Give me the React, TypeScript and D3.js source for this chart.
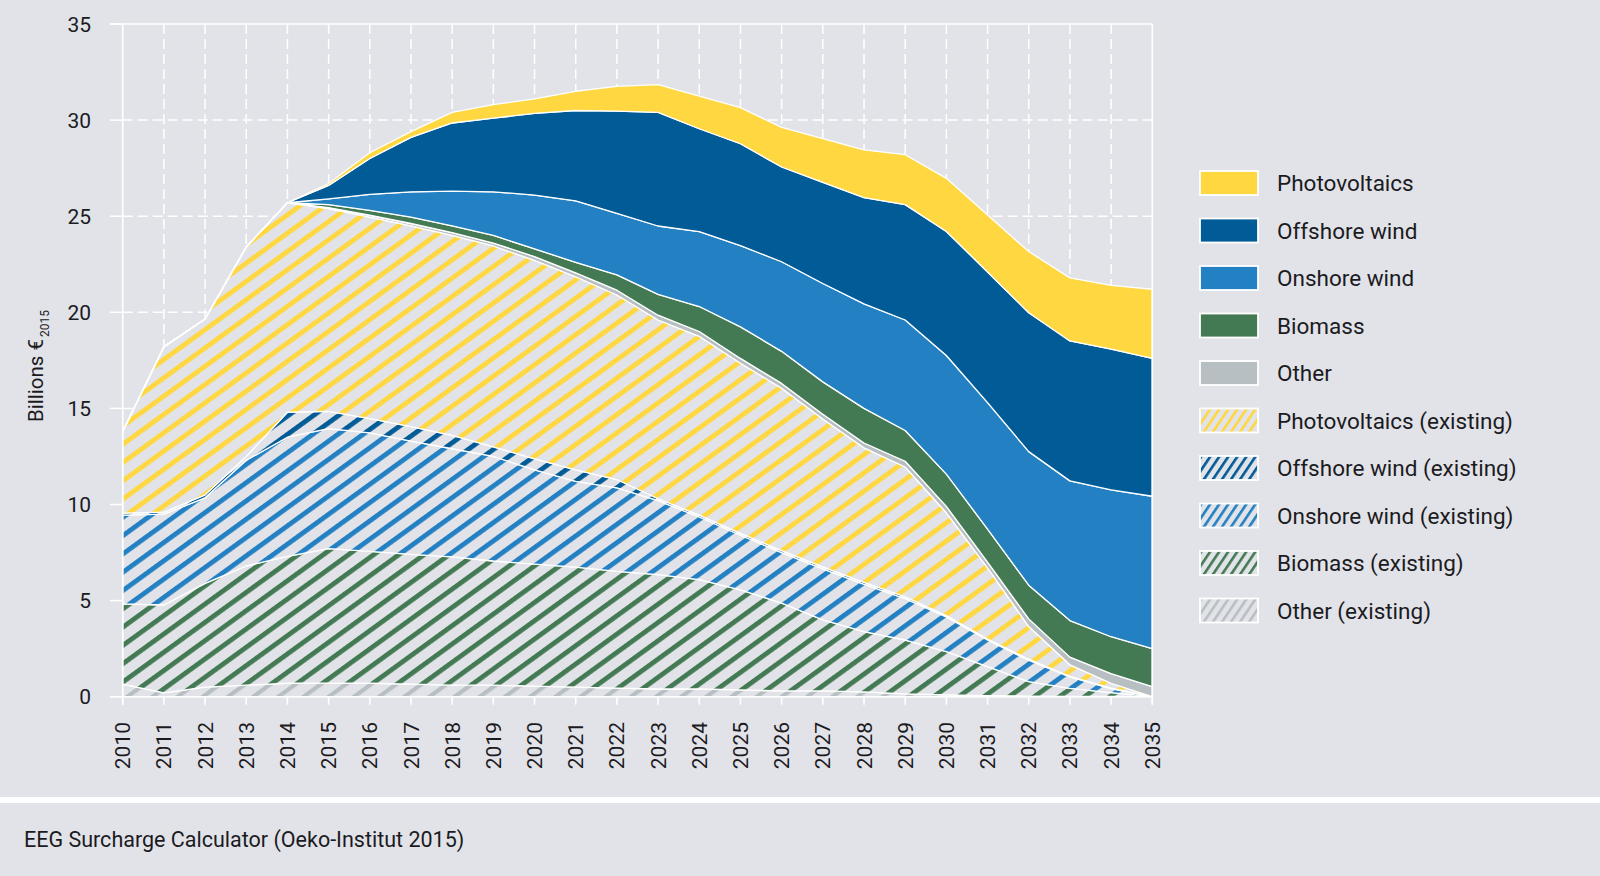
import { useRef, useEffect } from 'react';
import * as d3 from 'd3';

// Years on the x axis
const years: number[] = [
  2010, 2011, 2012, 2013, 2014, 2015, 2016, 2017, 2018, 2019, 2020, 2021, 2022,
  2023, 2024, 2025, 2026, 2027, 2028, 2029, 2030, 2031, 2032, 2033, 2034, 2035,
];

// Billions €2015, one value per year
const otherExisting: number[] = [0.65, 0.2, 0.5, 0.6, 0.7, 0.7, 0.7, 0.65, 0.6, 0.6, 0.55, 0.5, 0.45, 0.4, 0.4, 0.35, 0.3, 0.3, 0.25, 0.15, 0.1, 0.05, 0.03, 0.02, 0.01, 0];
const biomassExisting: number[] = [4.18, 4.57, 5.4, 6.2, 6.6, 7.0, 6.86, 6.75, 6.67, 6.46, 6.35, 6.24, 6.07, 5.95, 5.69, 5.21, 4.57, 3.7, 3.14, 2.8, 2.24, 1.51, 0.75, 0.41, 0.2, 0];
const onshoreExisting: number[] = [4.62, 4.73, 4.45, 5.5, 6.2, 6.25, 6.17, 5.9, 5.63, 5.44, 4.9, 4.46, 4.35, 3.85, 3.26, 2.84, 2.63, 2.65, 2.46, 2.15, 1.81, 1.39, 1.12, 0.6, 0.21, 0];
const offshoreExisting: number[] = [0.1, 0.1, 0.15, 0.2, 1.3, 0.9, 0.74, 0.75, 0.7, 0.5, 0.57, 0.6, 0.43, 0.1, 0.1, 0.1, 0.1, 0.1, 0.1, 0.1, 0.07, 0.05, 0.05, 0.03, 0.02, 0];
const pvExisting: number[] = [4.25, 8.6, 9.15, 10.9, 10.9, 10.55, 10.48, 10.45, 10.4, 10.45, 10.33, 10.05, 9.6, 9.3, 9.3, 8.85, 8.45, 7.7, 7.0, 6.75, 5.35, 3.7, 1.7, 0.6, 0.26, 0];
const otherNew: number[] = [0, 0, 0, 0, 0, 0.05, 0.1, 0.12, 0.15, 0.15, 0.2, 0.2, 0.25, 0.25, 0.25, 0.25, 0.25, 0.25, 0.25, 0.3, 0.33, 0.3, 0.4, 0.4, 0.5, 0.52];
const biomassNew: number[] = [0, 0, 0, 0, 0, 0.15, 0.25, 0.33, 0.35, 0.4, 0.4, 0.55, 0.8, 1.08, 1.3, 1.64, 1.67, 1.68, 1.8, 1.6, 1.68, 1.72, 1.75, 1.9, 1.92, 1.98];
const onshoreNew: number[] = [0, 0, 0, 0, 0, 0.3, 0.84, 1.32, 1.8, 2.27, 2.8, 3.2, 3.2, 3.56, 3.9, 4.23, 4.66, 5.12, 5.44, 5.75, 6.17, 6.58, 6.95, 7.27, 7.64, 7.93];
const offshoreNew: number[] = [0, 0, 0, 0, 0, 0.7, 1.86, 2.83, 3.55, 3.83, 4.25, 4.7, 5.32, 5.91, 5.35, 5.3, 4.93, 5.26, 5.53, 6.0, 6.45, 6.8, 7.23, 7.28, 7.32, 7.17];
const pvNew: number[] = [0, 0, 0, 0, 0, 0.1, 0.3, 0.3, 0.55, 0.7, 0.75, 1.0, 1.28, 1.45, 1.7, 1.88, 2.06, 2.27, 2.48, 2.6, 2.77, 2.96, 3.18, 3.28, 3.32, 3.6];

const yTicks: number[] = [0, 5, 10, 15, 20, 25, 30, 35];

// Stack order, bottom to top
const seriesKeys: string[] = [
  'otherEx', 'biomassEx', 'onshoreEx', 'offshoreEx', 'pvEx',
  'other', 'biomass', 'onshore', 'offshore', 'pv',
];
const seriesValues: number[][] = [
  otherExisting, biomassExisting, onshoreExisting, offshoreExisting, pvExisting,
  otherNew, biomassNew, onshoreNew, offshoreNew, pvNew,
];
const seriesColors: string[] = [
  '#b8bfc3', '#437a53', '#2280c3', '#005b96', '#ffd740',
  '#b8bfc3', '#437a53', '#2280c3', '#005b96', '#ffd740',
];
const seriesHatched: boolean[] = [true, true, true, true, true, false, false, false, false, false];

// Legend, top to bottom
const legendLabels: string[] = [
  'Photovoltaics', 'Offshore wind', 'Onshore wind', 'Biomass', 'Other',
  'Photovoltaics (existing)', 'Offshore wind (existing)', 'Onshore wind (existing)',
  'Biomass (existing)', 'Other (existing)',
];
const legendKeys: string[] = ['pv', 'offshore', 'onshore', 'biomass', 'other', 'pvEx', 'offshoreEx', 'onshoreEx', 'biomassEx', 'otherEx'];

const BG = '#e2e3e8';
const TEXT = '#1b1b1f';
const FONT = 'Roboto, "Noto Sans", sans-serif';

export default function App() {
  const ref = useRef<SVGSVGElement | null>(null);

  useEffect(() => {
    if (!ref.current) return;
    const svg = d3.select(ref.current);
    svg.selectAll('*').remove();

    const x = d3.scaleLinear().domain([2010, 2035]).range([122.7, 1152.3]);
    const y = d3.scaleLinear().domain([0, 35]).range([696.7, 24]);

    const defs = svg.append('defs');
    seriesKeys.forEach((k, i) => {
      if (!seriesHatched[i]) return;
      // chart hatch
      const p = defs.append('pattern')
        .attr('id', 'hatch-' + k)
        .attr('patternUnits', 'userSpaceOnUse')
        .attr('width', 14.8).attr('height', 14.8)
        .attr('patternTransform', 'rotate(-36)');
      p.append('rect').attr('width', 14.8).attr('height', 14.8).attr('fill', BG);
      p.append('rect').attr('width', 14.8).attr('height', k === 'otherEx' ? 4.2 : 4.8).attr('fill', seriesColors[i]);
      // legend hatch (finer, steeper)
      const q = defs.append('pattern')
        .attr('id', 'lhatch-' + k)
        .attr('patternUnits', 'userSpaceOnUse')
        .attr('width', 7.5).attr('height', 7.5)
        .attr('patternTransform', 'rotate(-56)');
      q.append('rect').attr('width', 7.5).attr('height', 7.5).attr('fill', BG);
      q.append('rect').attr('width', 7.5).attr('height', 2.6).attr('fill', seriesColors[i]);
    });

    svg.append('rect').attr('width', 1600).attr('height', 876).attr('fill', BG);

    // grid
    const grid = svg.append('g').attr('stroke', '#fff').attr('stroke-width', 1.5);
    yTicks.forEach((t) => {
      grid.append('line')
        .attr('x1', 110).attr('x2', x(2010))
        .attr('y1', y(t)).attr('y2', y(t));
      if (t > 0 && t < 35) {
        grid.append('line')
          .attr('x1', x(2010)).attr('x2', x(2035))
          .attr('y1', y(t)).attr('y2', y(t))
          .attr('stroke-dasharray', '10,5');
      }
    });
    years.slice(1, -1).forEach((yr) => {
      grid.append('line')
        .attr('x1', x(yr)).attr('x2', x(yr))
        .attr('y1', y(35)).attr('y2', y(0))
        .attr('stroke-dasharray', '10,5');
    });

    // stacked areas
    const rows = years.map((yr, i) => {
      const r: Record<string, number> = { year: yr };
      seriesKeys.forEach((k, j) => { r[k] = seriesValues[j][i]; });
      return r;
    });
    const stacked = d3.stack<Record<string, number>>().keys(seriesKeys)(rows);
    const area = d3.area<d3.SeriesPoint<Record<string, number>>>()
      .x((d) => x(d.data.year))
      .y0((d) => y(d[0]))
      .y1((d) => y(d[1]));

    svg.append('g').selectAll('path')
      .data(stacked)
      .enter()
      .append('path')
      .attr('d', (s) => area(s) || '')
      .attr('fill', (s, i) => seriesHatched[i] ? `url(#hatch-${s.key})` : seriesColors[i])
      .attr('stroke', '#fff')
      .attr('stroke-width', 1.3)
      .attr('stroke-linejoin', 'round');

    // frame and ticks
    const frame = svg.append('g').attr('stroke', '#fff').attr('stroke-width', 1.6);
    frame.append('line').attr('x1', 110).attr('x2', x(2035)).attr('y1', y(0)).attr('y2', y(0));
    frame.append('line').attr('x1', 110).attr('x2', x(2035)).attr('y1', y(35)).attr('y2', y(35));
    frame.append('line').attr('x1', x(2010)).attr('x2', x(2010)).attr('y1', y(35)).attr('y2', y(0) + 8);
    frame.append('line').attr('x1', x(2035)).attr('x2', x(2035)).attr('y1', y(35)).attr('y2', y(0) + 8);
    years.forEach((yr) => {
      frame.append('line').attr('x1', x(yr)).attr('x2', x(yr)).attr('y1', y(0)).attr('y2', y(0) + 8);
    });

    // y tick labels
    svg.append('g').selectAll('text')
      .data(yTicks)
      .enter()
      .append('text')
      .text((d) => String(d))
      .attr('x', 91)
      .attr('y', (d) => y(d))
      .attr('dy', '0.36em')
      .attr('text-anchor', 'end')
      .attr('font-family', FONT)
      .attr('font-size', 21)
      .attr('fill', TEXT);

    // x tick labels
    svg.append('g').selectAll('text')
      .data(years)
      .enter()
      .append('text')
      .text((d) => String(d))
      .attr('transform', (d) => `translate(${x(d)},722) rotate(-90)`)
      .attr('dy', '0.36em')
      .attr('text-anchor', 'end')
      .attr('font-family', FONT)
      .attr('font-size', 21)
      .attr('fill', TEXT);

    // y axis title
    const yt = svg.append('text')
      .attr('transform', 'translate(43,422) rotate(-90)')
      .attr('font-family', FONT)
      .attr('font-size', 20.5)
      .attr('fill', TEXT);
    yt.append('tspan').text('Billions €');
    yt.append('tspan').text('2015').attr('font-size', 12).attr('dx', 2).attr('dy', 6);

    // legend
    const lg = svg.append('g').attr('transform', 'translate(1200,171)');
    legendKeys.forEach((k, i) => {
      const idx = seriesKeys.indexOf(k);
      const row = lg.append('g').attr('transform', `translate(0,${i * 47.5})`);
      row.append('rect')
        .attr('width', 58).attr('height', 24)
        .attr('fill', seriesHatched[idx] ? `url(#lhatch-${k})` : seriesColors[idx])
        .attr('stroke', '#fff')
        .attr('stroke-width', 1.8);
      row.append('text')
        .text(legendLabels[i])
        .attr('x', 77)
        .attr('y', 12)
        .attr('dy', '0.36em')
        .attr('font-family', FONT)
        .attr('font-size', 22.5)
        .attr('fill', TEXT);
    });

    // footer
    svg.append('rect').attr('x', 0).attr('y', 797).attr('width', 1600).attr('height', 6).attr('fill', '#fff');
    svg.append('text')
      .text('EEG Surcharge Calculator (Oeko-Institut 2015)')
      .attr('x', 24)
      .attr('y', 847)
      .attr('font-family', FONT)
      .attr('font-size', 21.5)
      .attr('fill', TEXT);
  }, []);

  return (
    <svg
      ref={ref}
      width={1600}
      height={876}
      style={{ position: 'absolute', left: 0, top: 0, display: 'block' }}
    />
  );
}
